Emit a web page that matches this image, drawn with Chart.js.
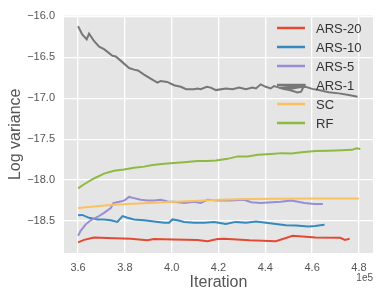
<!DOCTYPE html>
<html lang="en">
<head>
  <meta charset="UTF-8">
  <title>Log variance vs iteration</title>
  <script src="https://cdn.jsdelivr.net/npm/chart.js"></script>
  <style>
    body { margin: 0; padding: 0; background: #fff; }
    canvas { display: block; }
  </style>
</head>
<body>
  <canvas id="chart" width="381" height="298"></canvas>
  <script>
    // values (x in units of 1e5 iterations)
    const labels = ['ARS-20', 'ARS-10', 'ARS-5', 'ARS-1', 'SC', 'RF'];
    const colors = ['#E24A33', '#348ABD', '#988ED5', '#777777', '#FBC15E', '#8EBA42'];

    const ars20X = [3.600, 3.626, 3.668, 3.754, 3.825, 3.896, 3.925, 4.010, 4.110, 4.153, 4.196, 4.224, 4.332, 4.445, 4.517, 4.614, 4.720, 4.740, 4.760];
    const ars20Y = [-18.76, -18.73, -18.70, -18.71, -18.715, -18.735, -18.72, -18.725, -18.73, -18.745, -18.72, -18.715, -18.735, -18.745, -18.68, -18.70, -18.705, -18.73, -18.715];

    const ars10X = [3.600, 3.618, 3.647, 3.683, 3.711, 3.740, 3.768, 3.790, 3.811, 3.839, 3.882, 3.925, 3.968, 3.989, 4.003, 4.025, 4.053, 4.096, 4.139, 4.182, 4.231, 4.274, 4.317, 4.360, 4.403, 4.445, 4.488, 4.530, 4.585, 4.614, 4.635, 4.653];
    const ars10Y = [-18.43, -18.425, -18.46, -18.48, -18.48, -18.49, -18.51, -18.44, -18.46, -18.48, -18.49, -18.505, -18.52, -18.52, -18.48, -18.49, -18.51, -18.52, -18.52, -18.51, -18.535, -18.51, -18.52, -18.505, -18.52, -18.535, -18.55, -18.555, -18.565, -18.56, -18.55, -18.545];

    const ars5X = [3.600, 3.611, 3.633, 3.654, 3.683, 3.711, 3.740, 3.751, 3.776, 3.797, 3.818, 3.839, 3.868, 3.896, 3.925, 3.953, 3.982, 4.010, 4.053, 4.096, 4.124, 4.153, 4.196, 4.250, 4.309, 4.340, 4.380, 4.430, 4.466, 4.510, 4.540, 4.567, 4.610, 4.646];
    const ars5Y = [-18.68, -18.62, -18.54, -18.49, -18.45, -18.40, -18.34, -18.28, -18.265, -18.25, -18.205, -18.22, -18.24, -18.25, -18.25, -18.24, -18.26, -18.265, -18.28, -18.265, -18.28, -18.24, -18.25, -18.25, -18.24, -18.27, -18.28, -18.27, -18.265, -18.25, -18.265, -18.28, -18.29, -18.29];

    const ars1X = [3.600, 3.618, 3.637, 3.647, 3.668, 3.690, 3.711, 3.747, 3.761, 3.782, 3.818, 3.839, 3.856, 3.882, 3.910, 3.939, 3.953, 3.981, 4.010, 4.039, 4.062, 4.096, 4.110, 4.124, 4.150, 4.167, 4.189, 4.231, 4.260, 4.288, 4.317, 4.345, 4.360, 4.380, 4.402, 4.423, 4.437, 4.459, 4.474, 4.503, 4.538, 4.553, 4.567, 4.459, 4.490, 4.517, 4.545, 4.572, 4.600, 4.628, 4.671, 4.714, 4.757, 4.794];
    const ars1Y = [-16.12, -16.22, -16.28, -16.21, -16.30, -16.37, -16.40, -16.48, -16.49, -16.54, -16.63, -16.65, -16.66, -16.71, -16.76, -16.81, -16.79, -16.80, -16.84, -16.86, -16.89, -16.89, -16.88, -16.89, -16.86, -16.87, -16.90, -16.88, -16.89, -16.87, -16.89, -16.87, -16.88, -16.83, -16.86, -16.88, -16.85, -16.87, -16.885, -16.90, -16.93, -16.92, -16.84, -16.875, -16.87, -16.88, -16.865, -16.86, -16.885, -16.90, -16.925, -16.94, -16.96, -16.98];

    const scX = [3.60, 3.75, 3.90, 4.04, 4.21, 4.32, 4.45, 4.61, 4.80];
    const scY = [-18.34, -18.30, -18.28, -18.26, -18.24, -18.23, -18.228, -18.225, -18.225];

    const rfX = [3.600, 3.626, 3.668, 3.711, 3.754, 3.797, 3.839, 3.882, 3.918, 3.968, 4.010, 4.053, 4.110, 4.153, 4.189, 4.239, 4.282, 4.325, 4.368, 4.426, 4.469, 4.512, 4.555, 4.614, 4.670, 4.727, 4.770, 4.790, 4.806];
    const rfY = [-18.10, -18.05, -17.98, -17.92, -17.886, -17.87, -17.85, -17.835, -17.815, -17.80, -17.79, -17.78, -17.765, -17.765, -17.76, -17.74, -17.71, -17.71, -17.69, -17.68, -17.67, -17.675, -17.66, -17.645, -17.64, -17.635, -17.63, -17.61, -17.62];

    const xTicks = [3.6, 3.8, 4.0, 4.2, 4.4, 4.6, 4.8];
    const yTicks = [-18.5, -18.0, -17.5, -17.0, -16.5, -16.0];

    const seriesX = [ars20X, ars10X, ars5X, ars1X, scX, rfX];
    const seriesY = [ars20Y, ars10Y, ars5Y, ars1Y, scY, rfY];

    const datasets = labels.map((name, i) => ({
      label: name,
      data: seriesX[i].map((x, j) => ({ x: x, y: seriesY[i][j] })),
      borderColor: colors[i],
      backgroundColor: colors[i],
      borderWidth: 2,
      showLine: true,
      pointRadius: 0,
      tension: 0,
      order: labels.length - i   // later series on top, like matplotlib
    }));

    const grey = '#555555';
    const font = '"Liberation Sans", Arial, sans-serif';

    // grey panel behind the plot, legend and offset text on top
    const ggplotPanel = {
      id: 'ggplotPanel',
      beforeDraw(chart) {
        const { ctx, chartArea: a } = chart;
        ctx.save();
        ctx.fillStyle = '#E5E5E5';
        ctx.fillRect(a.left, a.top, a.right - a.left, a.bottom - a.top);
        ctx.restore();
      },
      afterDraw(chart) {
        const { ctx, chartArea: a } = chart;
        ctx.save();
        // offset label
        ctx.fillStyle = grey;
        ctx.font = '10px ' + font;
        ctx.textAlign = 'right';
        ctx.textBaseline = 'middle';
        ctx.fillText('1e5', a.right, 278);
        // legend
        ctx.font = '13px ' + font;
        ctx.textAlign = 'left';
        chart.data.datasets.forEach((ds, i) => {
          const y = 28 + i * 19;
          ctx.strokeStyle = ds.borderColor;
          ctx.lineWidth = 2.5;
          ctx.beginPath();
          ctx.moveTo(277, y);
          ctx.lineTo(305, y);
          ctx.stroke();
          ctx.fillStyle = '#333333';
          ctx.fillText(ds.label, 316, y + 1);
        });
        ctx.restore();
      }
    };

    new Chart(document.getElementById('chart'), {
      type: 'scatter',
      data: { datasets: datasets },
      options: {
        responsive: false,
        animation: false,
        layout: { padding: { top: 11, right: 8, left: 0, bottom: 0 } },
        plugins: {
          legend: { display: false },
          tooltip: { enabled: false }
        },
        scales: {
          x: {
            type: 'linear',
            min: 3.54,
            max: 4.86,
            afterBuildTicks: s => { s.ticks = xTicks.map(v => ({ value: v })); },
            afterFit: s => { s.height = 45; },
            grid: { color: '#FFFFFF', lineWidth: 1.3, drawTicks: false },
            border: { display: false },
            ticks: {
              color: grey,
              padding: 8,
              font: { family: font, size: 11 },
              callback: v => v.toFixed(1)
            },
            title: {
              display: true,
              text: 'Iteration',
              color: grey,
              padding: { bottom: 6 },
              font: { family: font, size: 16 }
            }
          },
          y: {
            type: 'linear',
            min: -18.89,
            max: -15.99,
            afterBuildTicks: s => { s.ticks = yTicks.map(v => ({ value: v })); },
            afterFit: s => { s.width = 64; },
            grid: { color: '#FFFFFF', lineWidth: 1.3, drawTicks: false },
            border: { display: false },
            ticks: {
              color: grey,
              padding: 9,
              font: { family: font, size: 11 },
              callback: v => '\u2212' + Math.abs(v).toFixed(1)
            },
            title: {
              display: true,
              text: 'Log variance',
              color: grey,
              padding: { top: 6 },
              font: { family: font, size: 16 }
            }
          }
        }
      },
      plugins: [ggplotPanel]
    });
  </script>
</body>
</html>
